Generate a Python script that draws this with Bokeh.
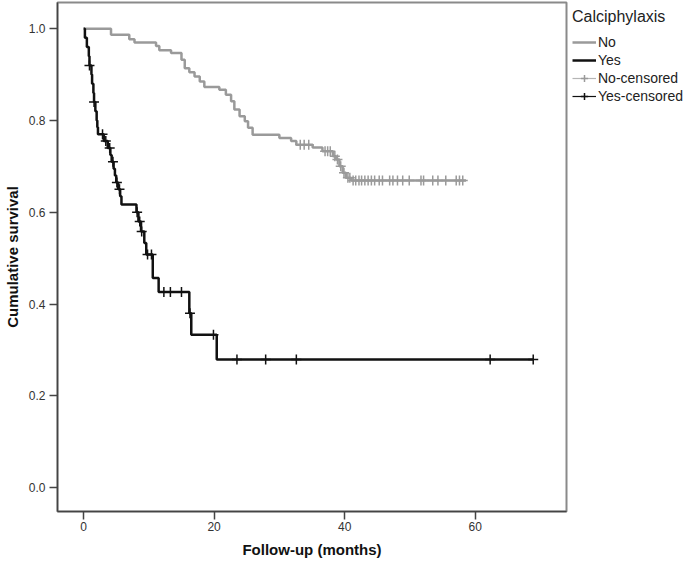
import numpy as np
from bokeh.plotting import figure
from bokeh.models import FixedTicker, Legend, LegendItem, Range1d, NumeralTickFormatter
from bokeh.embed import file_html
from bokeh.resources import INLINE

# ---- data ----
no_time = [0, 4.2, 7.0, 7.8, 11.1, 11.6, 13.4, 15.0, 15.5, 16.2, 17.0, 17.8, 18.5,
           20.8, 21.8, 22.6, 23.1, 23.9, 24.7, 25.2, 25.9, 30.0, 31.8, 32.6, 35.1,
           36.6, 38.2, 38.7, 39.2, 39.7, 40.2, 41.0, 58.6]
no_surv = [1.0, 0.987, 0.977, 0.97, 0.962, 0.953, 0.947, 0.932, 0.914, 0.905, 0.896,
           0.885, 0.873, 0.867, 0.856, 0.842, 0.824, 0.809, 0.798, 0.784, 0.769, 0.762,
           0.755, 0.747, 0.741, 0.733, 0.722, 0.715, 0.70, 0.686, 0.675, 0.669, 0.669]

yes_time = [0, 0.2, 0.5, 0.8, 0.9, 1.2, 1.3, 1.5, 1.6, 1.8, 2.0, 2.1, 2.2, 3.1, 3.7,
            4.1, 4.3, 4.6, 4.8, 5.0, 5.3, 5.6, 5.8, 8.1, 8.4, 8.8, 9.3, 9.6, 10.6,
            11.5, 16.2, 16.5, 20.4, 68.9]
yes_surv = [1.0, 0.98, 0.96, 0.94, 0.92, 0.90, 0.88, 0.86, 0.84, 0.82, 0.80, 0.785,
            0.77, 0.755, 0.74, 0.725, 0.71, 0.695, 0.68, 0.665, 0.65, 0.635, 0.617,
            0.60, 0.58, 0.558, 0.533, 0.508, 0.457, 0.426, 0.38, 0.333, 0.279, 0.279]

no_cens_time = [33.2, 33.8, 34.5, 37.0, 37.4, 37.8, 38.5, 38.9, 39.4, 39.9, 40.5, 40.8,
                41.3, 41.7, 42.2, 42.6, 43.1, 43.6, 44.1, 44.6, 45.3, 45.8, 46.9, 47.4,
                48.1, 48.9, 49.9, 51.7, 52.1, 53.5, 54.3, 55.5, 57.1, 57.6, 58.1]
no_cens_surv = [0.747, 0.747, 0.747, 0.733, 0.733, 0.733, 0.722, 0.715, 0.70, 0.686,
                0.675, 0.675] + [0.669] * 23

yes_cens_time = [0.9, 1.6, 2.9, 3.4, 4.0, 4.5, 5.1, 5.5, 8.2, 8.6, 8.9, 9.8, 10.4,
                 12.3, 13.3, 15.0, 16.3, 19.9, 23.5, 27.9, 32.6, 62.3, 68.9]
yes_cens_surv = [0.92, 0.84, 0.77, 0.755, 0.74, 0.71, 0.665, 0.65, 0.60, 0.58, 0.558,
                 0.508, 0.508, 0.426, 0.426, 0.426, 0.38, 0.333, 0.279, 0.279, 0.279,
                 0.279, 0.279]

x_ticks = [0, 20, 40, 60]
y_ticks = [0.0, 0.2, 0.4, 0.6, 0.8, 1.0]

FONT = "Liberation Sans"
GRAY = "#9a9a9a"
BLACK = "#111111"

p = figure(frame_width=509, frame_height=509,
           x_range=Range1d(-4, 74), y_range=Range1d(-0.052, 1.057),
           output_backend="svg", toolbar_location=None,
           min_border_left=53, min_border_right=105, min_border_top=2, min_border_bottom=48)

p.xgrid.visible = False
p.ygrid.visible = False
p.outline_line_color = "#8a8a8a"
p.outline_line_width = 2
p.background_fill_color = "white"
p.border_fill_color = "white"

for ax in (p.xaxis[0], p.yaxis[0]):
    ax.axis_line_color = "#444444"
    ax.axis_line_width = 1.5
    ax.major_tick_line_color = "#444444"
    ax.major_tick_line_width = 1.5
    ax.major_tick_out = 8
    ax.major_tick_in = 0
    ax.minor_tick_line_color = None
    ax.major_label_text_font = FONT
    ax.major_label_text_font_size = "12px"
    ax.major_label_text_color = "#333333"
    ax.axis_label_text_font = FONT
    ax.axis_label_text_font_size = "15px"
    ax.axis_label_text_font_style = "bold"
    ax.axis_label_text_color = "#111111"

p.xaxis.ticker = FixedTicker(ticks=x_ticks)
p.yaxis.ticker = FixedTicker(ticks=y_ticks)
p.yaxis.formatter = NumeralTickFormatter(format="0.0")
p.xaxis.axis_label = "Follow-up (months)"
p.yaxis.axis_label = "Cumulative survival"
p.xaxis.major_label_standoff = 2
p.xaxis.axis_label_standoff = 7
p.yaxis.major_label_standoff = 4
p.yaxis.axis_label_standoff = 5

r_no = p.step(no_time, no_surv, mode="after", line_color=GRAY, line_width=2.5)
r_yes = p.step(yes_time, yes_surv, mode="after", line_color=BLACK, line_width=2.5)
s_no = p.scatter(no_cens_time, no_cens_surv, marker="cross", size=10,
                 line_color=GRAY, line_width=1.5)
s_yes = p.scatter(yes_cens_time, yes_cens_surv, marker="cross", size=10,
                  line_color=BLACK, line_width=1.5)
l_no = p.line([np.nan], [np.nan], line_color="#b5b5b5", line_width=1.2)
l_yes = p.line([np.nan], [np.nan], line_color=BLACK, line_width=1.2)

legend = Legend(items=[
    LegendItem(label="No", renderers=[r_no]),
    LegendItem(label="Yes", renderers=[r_yes]),
    LegendItem(label="No-censored", renderers=[l_no, s_no]),
    LegendItem(label="Yes-censored", renderers=[l_yes, s_yes]),
], location="top_left", title="Calciphylaxis")
legend.border_line_color = None
legend.background_fill_alpha = 0
legend.margin = 6
legend.padding = 0
legend.glyph_width = 24
legend.glyph_height = 18
legend.label_height = 18
legend.label_standoff = 2
legend.spacing = 0
legend.label_text_font = FONT
legend.label_text_font_size = "14px"
legend.label_text_color = "#222222"
legend.title_text_font = FONT
legend.title_text_font_size = "16px"
legend.title_text_font_style = "normal"
legend.title_text_color = "#222222"
legend.title_standoff = 7
p.add_layout(legend, "right")

open("out.html", "w").write(file_html(p, INLINE))
